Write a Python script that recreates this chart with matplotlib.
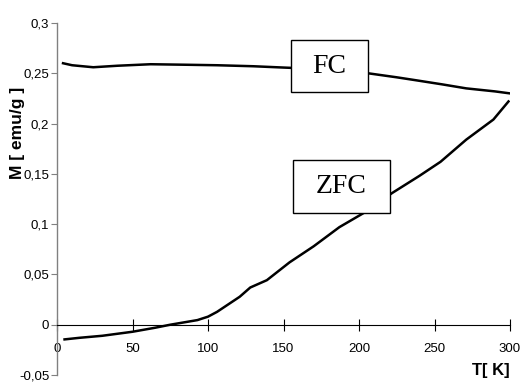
import matplotlib
matplotlib.use("Agg")
import matplotlib.pyplot as plt
from matplotlib.patches import Rectangle

# magnetisation vs temperature
fc_T = [4, 10, 24, 40, 62, 85, 106, 130, 150, 170, 207, 225, 238, 255, 271, 290, 300]
fc_M = [0.260, 0.258, 0.256, 0.2575, 0.259, 0.2585, 0.258, 0.257, 0.2557, 0.2545,
        0.2498, 0.246, 0.243, 0.239, 0.235, 0.232, 0.230]

zfc_T = [5, 15, 30, 50, 65, 75, 93, 100, 106, 121, 128, 139, 154, 170, 187, 203,
         222, 240, 254, 271, 289, 299]
zfc_M = [-0.0146, -0.013, -0.011, -0.007, -0.003, 0.000, 0.0046, 0.008, 0.0128, 0.0278,
         0.037, 0.0443, 0.062, 0.078, 0.097, 0.111, 0.131, 0.148, 0.162, 0.184, 0.204, 0.222]

x_ticks = [0, 50, 100, 150, 200, 250, 300]
y_ticks = [-0.05, 0, 0.05, 0.1, 0.15, 0.2, 0.25, 0.3]
y_labels = ['-0,05', '0', '0,05', '0,1', '0,15', '0,2', '0,25', '0,3']

plt.rcParams['font.family'] = ['Liberation Sans', 'DejaVu Sans']

fig = plt.figure(figsize=(5.22, 3.83), dpi=100)
ax = fig.add_axes([57/522, 1 - 375/383, 453/522, 352/383])

ax.plot(fc_T, fc_M, color='black', linewidth=1.8, zorder=2)
ax.plot(zfc_T, zfc_M, color='black', linewidth=1.8, zorder=2)

ax.set_xlim(0, 300)
ax.set_ylim(-0.05, 0.3)

# axes styling like the old spreadsheet chart
ax.spines['top'].set_visible(False)
ax.spines['right'].set_visible(False)
ax.spines['bottom'].set_position(('data', 0))
ax.spines['bottom'].set_color('black')
ax.spines['bottom'].set_linewidth(0.8)
ax.spines['left'].set_color('#808080')
ax.spines['left'].set_linewidth(1.0)

ax.set_xticks(x_ticks)
ax.set_xticklabels([str(t) for t in x_ticks])
ax.set_yticks(y_ticks)
ax.set_yticklabels(y_labels)
ax.tick_params(axis='x', direction='inout', length=8, width=0.8, pad=9, labelsize=9.5)
ax.tick_params(axis='y', direction='out', length=4, width=0.8, color='#808080', pad=1.5, labelsize=9.5)

# labelled boxes
ax.add_patch(Rectangle((155, 0.2312), 51, 0.0517, facecolor='white', edgecolor='black',
                       linewidth=1.0, zorder=3))
ax.text(180.5, 0.2571, 'FC', family='Liberation Serif', fontsize=20,
        ha='center', va='center', zorder=4)
ax.add_patch(Rectangle((156.3, 0.111), 64.2, 0.0526, facecolor='white', edgecolor='black',
                       linewidth=1.0, zorder=3))
ax.text(188.4, 0.1373, 'ZFC', family='Liberation Serif', fontsize=20,
        ha='center', va='center', zorder=4)

fig.text(18/522, 1 - 133/383, 'M [ emu/g ]', rotation=90, fontsize=12.5,
         fontweight='bold', ha='center', va='center')
fig.text(491/522, 1 - 370/383, 'T[ K]', fontsize=12, fontweight='bold',
         ha='center', va='center')

fig.savefig('out.png', dpi=100)
